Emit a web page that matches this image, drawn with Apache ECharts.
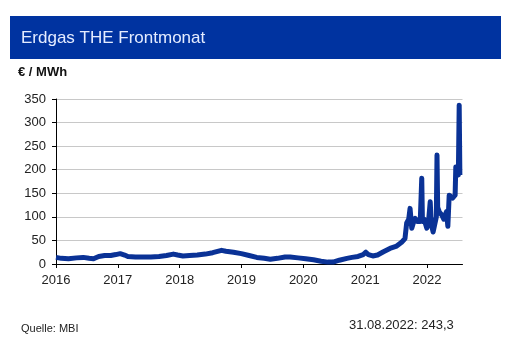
<!DOCTYPE html>
<html>
<head>
<meta charset="utf-8">
<script src="https://cdn.jsdelivr.net/npm/echarts@6/dist/echarts.min.js"></script>
<style>html,body{margin:0;padding:0;background:#fff}#c{width:512px;height:352px}</style>
</head>
<body>
<div id="c"></div>
<script>
const titleText = 'Erdgas THE Frontmonat';
const unitText = '€ / MWh';
const sourceText = 'Quelle: MBI';
const lastValueText = '31.08.2022: 243,3';
const yTicks = [0, 50, 100, 150, 200, 250, 300, 350];
const xYears = [2016, 2017, 2018, 2019, 2020, 2021, 2022];

const dates = [
'2016-01-01','2016-02-01','2016-03-15','2016-05-01','2016-06-10','2016-07-15','2016-08-10','2016-09-10','2016-10-15','2016-11-20','2016-12-20',
'2017-01-15','2017-02-10','2017-03-01','2017-04-15','2017-06-01','2017-07-15','2017-09-01','2017-10-15','2017-11-25','2017-12-20',
'2018-01-20','2018-03-01','2018-04-15','2018-06-01','2018-07-15','2018-09-05','2018-10-01','2018-11-15','2018-12-31',
'2019-02-15','2019-04-01','2019-05-15','2019-06-20','2019-08-01','2019-09-15','2019-10-15','2019-12-01',
'2020-01-15','2020-03-01','2020-04-15','2020-05-25','2020-06-25','2020-08-01','2020-09-15','2020-10-15','2020-11-20','2020-12-20',
'2021-01-05','2021-01-20','2021-02-15','2021-03-15','2021-04-19','2021-05-27','2021-07-06','2021-08-04','2021-08-24',
'2021-09-03','2021-09-15','2021-09-23','2021-10-03','2021-10-13','2021-10-23','2021-11-05','2021-11-22','2021-12-01','2021-12-05','2021-12-15','2021-12-31',
'2022-01-10','2022-01-20','2022-01-26','2022-02-06','2022-02-25','2022-03-01','2022-03-05','2022-03-15','2022-03-29','2022-04-10','2022-04-17','2022-04-26','2022-05-04','2022-05-09','2022-05-12','2022-06-01','2022-06-16','2022-06-20','2022-06-29','2022-07-05','2022-07-10','2022-07-14'
];
const prices = [
14,12,11,13,14,12,11,16,18,18,20,
22,19,16,15,15,15,16,18,21,19,
17,18,19,21,24,29,27,25,22,
18,14,12,10,12,15,15,13,
11,9,6,4,4,8,12,14,16,20,
25,20,17,19,26,33,38,46,54,
87,95,118,76,88,97,90,90,182,90,95,76,
90,132,85,68,100,231,120,110,104,95,93,111,80,82,146,140,146,206,202,189,337,189
];

function toYear(s) {
  const d = new Date(s + 'T00:00:00Z');
  const y = d.getUTCFullYear();
  const a = Date.UTC(y, 0, 1), b = Date.UTC(y + 1, 0, 1);
  return y + (d.getTime() - a) / (b - a);
}
const seriesData = dates.map((d, i) => [toYear(d), prices[i]]);

const font = '"Liberation Sans", Arial, sans-serif';
const chart = echarts.init(document.getElementById('c'), null, {renderer: 'canvas'});
chart.setOption({
  animation: false,
  backgroundColor: '#ffffff',
  grid: {left: 56, right: 49.5, top: 99, bottom: 88, containLabel: false},
  xAxis: {
    type: 'value',
    min: xYears[0],
    max: 2022.574,
    interval: 1,
    axisLine: {show: true, lineStyle: {color: '#000', width: 1}},
    axisTick: {show: true, length: 4, lineStyle: {color: '#000'}},
    axisLabel: {
      color: '#222', fontFamily: font, fontSize: 13, margin: 10, showMaxLabel: false,
      formatter: v => (xYears.indexOf(Math.round(v)) >= 0 && Math.abs(v - Math.round(v)) < 1e-6) ? String(Math.round(v)) : ''
    },
    splitLine: {show: false}
  },
  yAxis: {
    type: 'value',
    min: yTicks[0],
    max: yTicks[yTicks.length - 1],
    interval: 50,
    axisLine: {show: true, lineStyle: {color: '#000', width: 1}},
    axisTick: {show: true, length: 4, lineStyle: {color: '#000'}},
    axisLabel: {color: '#222', fontFamily: font, fontSize: 13, margin: 10},
    splitLine: {show: true, lineStyle: {color: '#c8c8c8', width: 1}}
  },
  series: [{
    type: 'line',
    data: seriesData,
    showSymbol: false,
    smooth: false,
    lineStyle: {color: '#0a3296', width: 5, join: 'round'},
    z: 3
  }],
  graphic: [
    {type: 'rect', left: 10, top: 16, shape: {width: 491, height: 43}, style: {fill: '#0033a0'}},
    {type: 'text', left: 21, top: 30, style: {text: titleText, fill: '#e4ecff', font: '17px ' + font}},
    {type: 'text', left: 18, top: 66, style: {text: unitText, fill: '#111', font: 'bold 13px ' + font}},
    {type: 'text', left: 21, top: 323, style: {text: sourceText, fill: '#222', font: '11px ' + font}},
    {type: 'text', left: 349, top: 319, style: {text: lastValueText, fill: '#222', font: '13px ' + font}}
  ]
});
</script>
</body>
</html>
